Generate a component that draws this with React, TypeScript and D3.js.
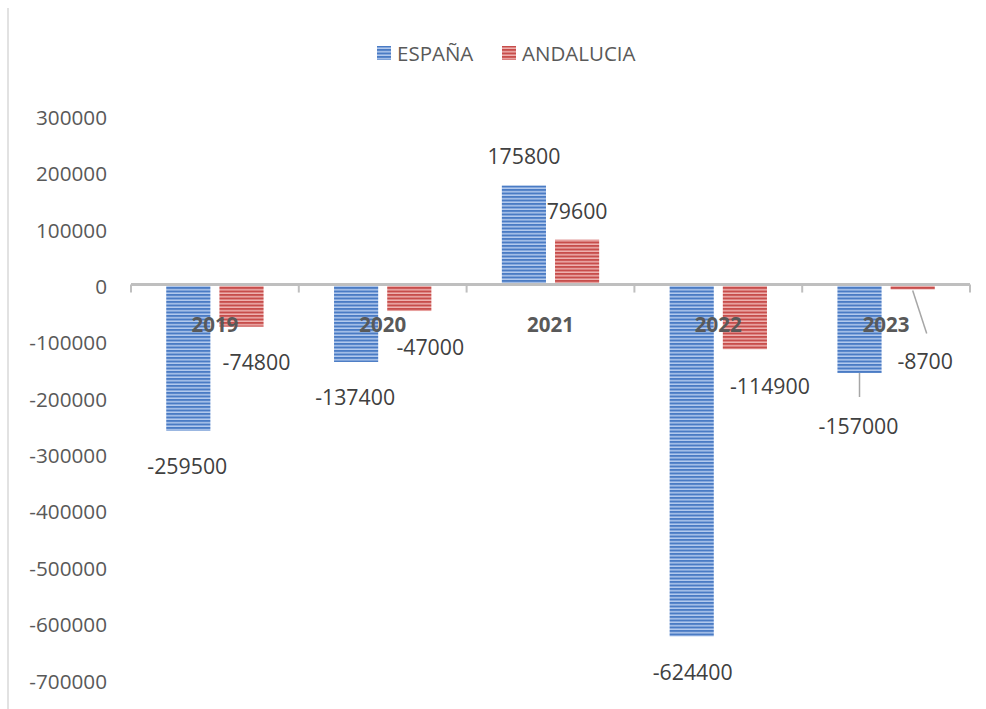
import React from "react";
import * as d3 from "d3";

const categories = ["2019", "2020", "2021", "2022", "2023"];
const seriesNames = ["ESPAÑA", "ANDALUCIA"];
const espana = [-259500, -137400, 175800, -624400, -157000];
const andalucia = [-74800, -47000, 79600, -114900, -8700];
const yTicks = [300000, 200000, 100000, 0, -100000, -200000, -300000, -400000, -500000, -600000, -700000];

// label placement offsets (dx, dy) relative to the bar end
const espanaLabelOffset = [[-1, 35], [-1, 35], [0, -30], [1, 35], [-1, 52]];
const andaluciaLabelOffset = [[15, 35], [21, 35], [0, -29], [25, 36], [12.5, 71]];

const W = 986;
const H = 709;
const FONT = "'Open Sans', 'Liberation Sans', sans-serif";

export default function App() {
  const x = d3.scaleBand<string>().domain(categories).range([131, 970]).paddingInner(0.42).paddingOuter(0.21);
  const xs = d3.scaleBand<string>().domain(seriesNames).range([0, x.bandwidth()]).paddingInner(0.17).paddingOuter(0);
  const y = d3.scaleLinear().domain([-700000, 300000]).range([679, 115.5]);
  const step = x.step();
  const x0 = 131;

  const series = [
    { name: seriesNames[0], values: espana, offs: espanaLabelOffset, fill: "url(#pBlue)" },
    { name: seriesNames[1], values: andalucia, offs: andaluciaLabelOffset, fill: "url(#pRed)" },
  ];

  return (
    <svg width={W} height={H} style={{ position: "absolute", left: 0, top: 0 }} fontFamily={FONT}>
      <defs>
        <pattern id="pBlue" patternUnits="userSpaceOnUse" width="8" height="3.5">
          <rect width="8" height="3.5" fill="#4a7bc4" />
          <rect y="2" width="8" height="1.5" fill="#b4cbee" />
        </pattern>
        <pattern id="pRed" patternUnits="userSpaceOnUse" width="8" height="3.5">
          <rect width="8" height="3.5" fill="#c74d4b" />
          <rect y="2" width="8" height="1.5" fill="#efb3b1" />
        </pattern>
      </defs>
      <rect width={W} height={H} fill="#ffffff" />
      <line x1={8} x2={8} y1={8} y2={H} stroke="#d9d9d9" strokeWidth={1.5} />

      {/* legend */}
      <g>
        <rect x={377} y={46} width={14} height={14} fill="url(#pBlue)" />
        <text x={397} y={53} dominantBaseline="central" fontSize={20.5} fill="#595959">{seriesNames[0]}</text>
        <rect x={502} y={46} width={14} height={14} fill="url(#pRed)" />
        <text x={522} y={53} dominantBaseline="central" fontSize={20.5} fill="#595959">{seriesNames[1]}</text>
      </g>

      {/* y tick labels */}
      {yTicks.map((t) => (
        <text key={t} x={107} y={y(t) + 1.5} textAnchor="end" dominantBaseline="central" fontSize={20.7} fill="#595959">
          {t}
        </text>
      ))}

      {/* bars */}
      {series.map((s) =>
        s.values.map((v, i) => {
          const bx = (x(categories[i]) as number) + (xs(s.name) as number);
          const top = Math.min(y(v), y(0));
          const h = Math.abs(y(v) - y(0));
          return <rect key={s.name + i} x={bx} y={top} width={xs.bandwidth()} height={h} fill={s.fill} />;
        })
      )}

      {/* axis line and ticks */}
      <line x1={x0} x2={970} y1={y(0)} y2={y(0)} stroke="#bfbfbf" strokeWidth={3} />
      {d3.range(categories.length + 1).map((k) => (
        <line key={k} x1={x0 + k * step} x2={x0 + k * step} y1={y(0)} y2={y(0) + 8} stroke="#bfbfbf" strokeWidth={2} />
      ))}

      {/* category labels */}
      {categories.map((c) => (
        <text key={c} x={(x(c) as number) + x.bandwidth() / 2} y={324} textAnchor="middle" dominantBaseline="central" fontSize={20.5} fontWeight="bold" fill="#595959">
          {c}
        </text>
      ))}

      {/* leader lines */}
      {(() => {
        const c4 = x(categories[4]) as number;
        const bE = c4 + (xs(seriesNames[0]) as number) + xs.bandwidth() / 2;
        const bA = c4 + (xs(seriesNames[1]) as number) + xs.bandwidth() / 2;
        return (
          <g stroke="#a6a6a6" strokeWidth={1.5}>
            <line x1={bE} x2={bE} y1={y(espana[4])} y2={y(espana[4]) + 24} />
            <line x1={bA} x2={bA + 14} y1={y(andalucia[4]) + 1} y2={y(andalucia[4]) + 44} />
          </g>
        );
      })()}

      {/* data labels */}
      {series.map((s) =>
        s.values.map((v, i) => {
          const cx = (x(categories[i]) as number) + (xs(s.name) as number) + xs.bandwidth() / 2;
          const [dx, dy] = s.offs[i];
          return (
            <text key={"l" + s.name + i} x={cx + dx} y={y(v) + dy} textAnchor="middle" dominantBaseline="central" fontSize={21.3} fill="#404040">
              {v}
            </text>
          );
        })
      )}
    </svg>
  );
}
